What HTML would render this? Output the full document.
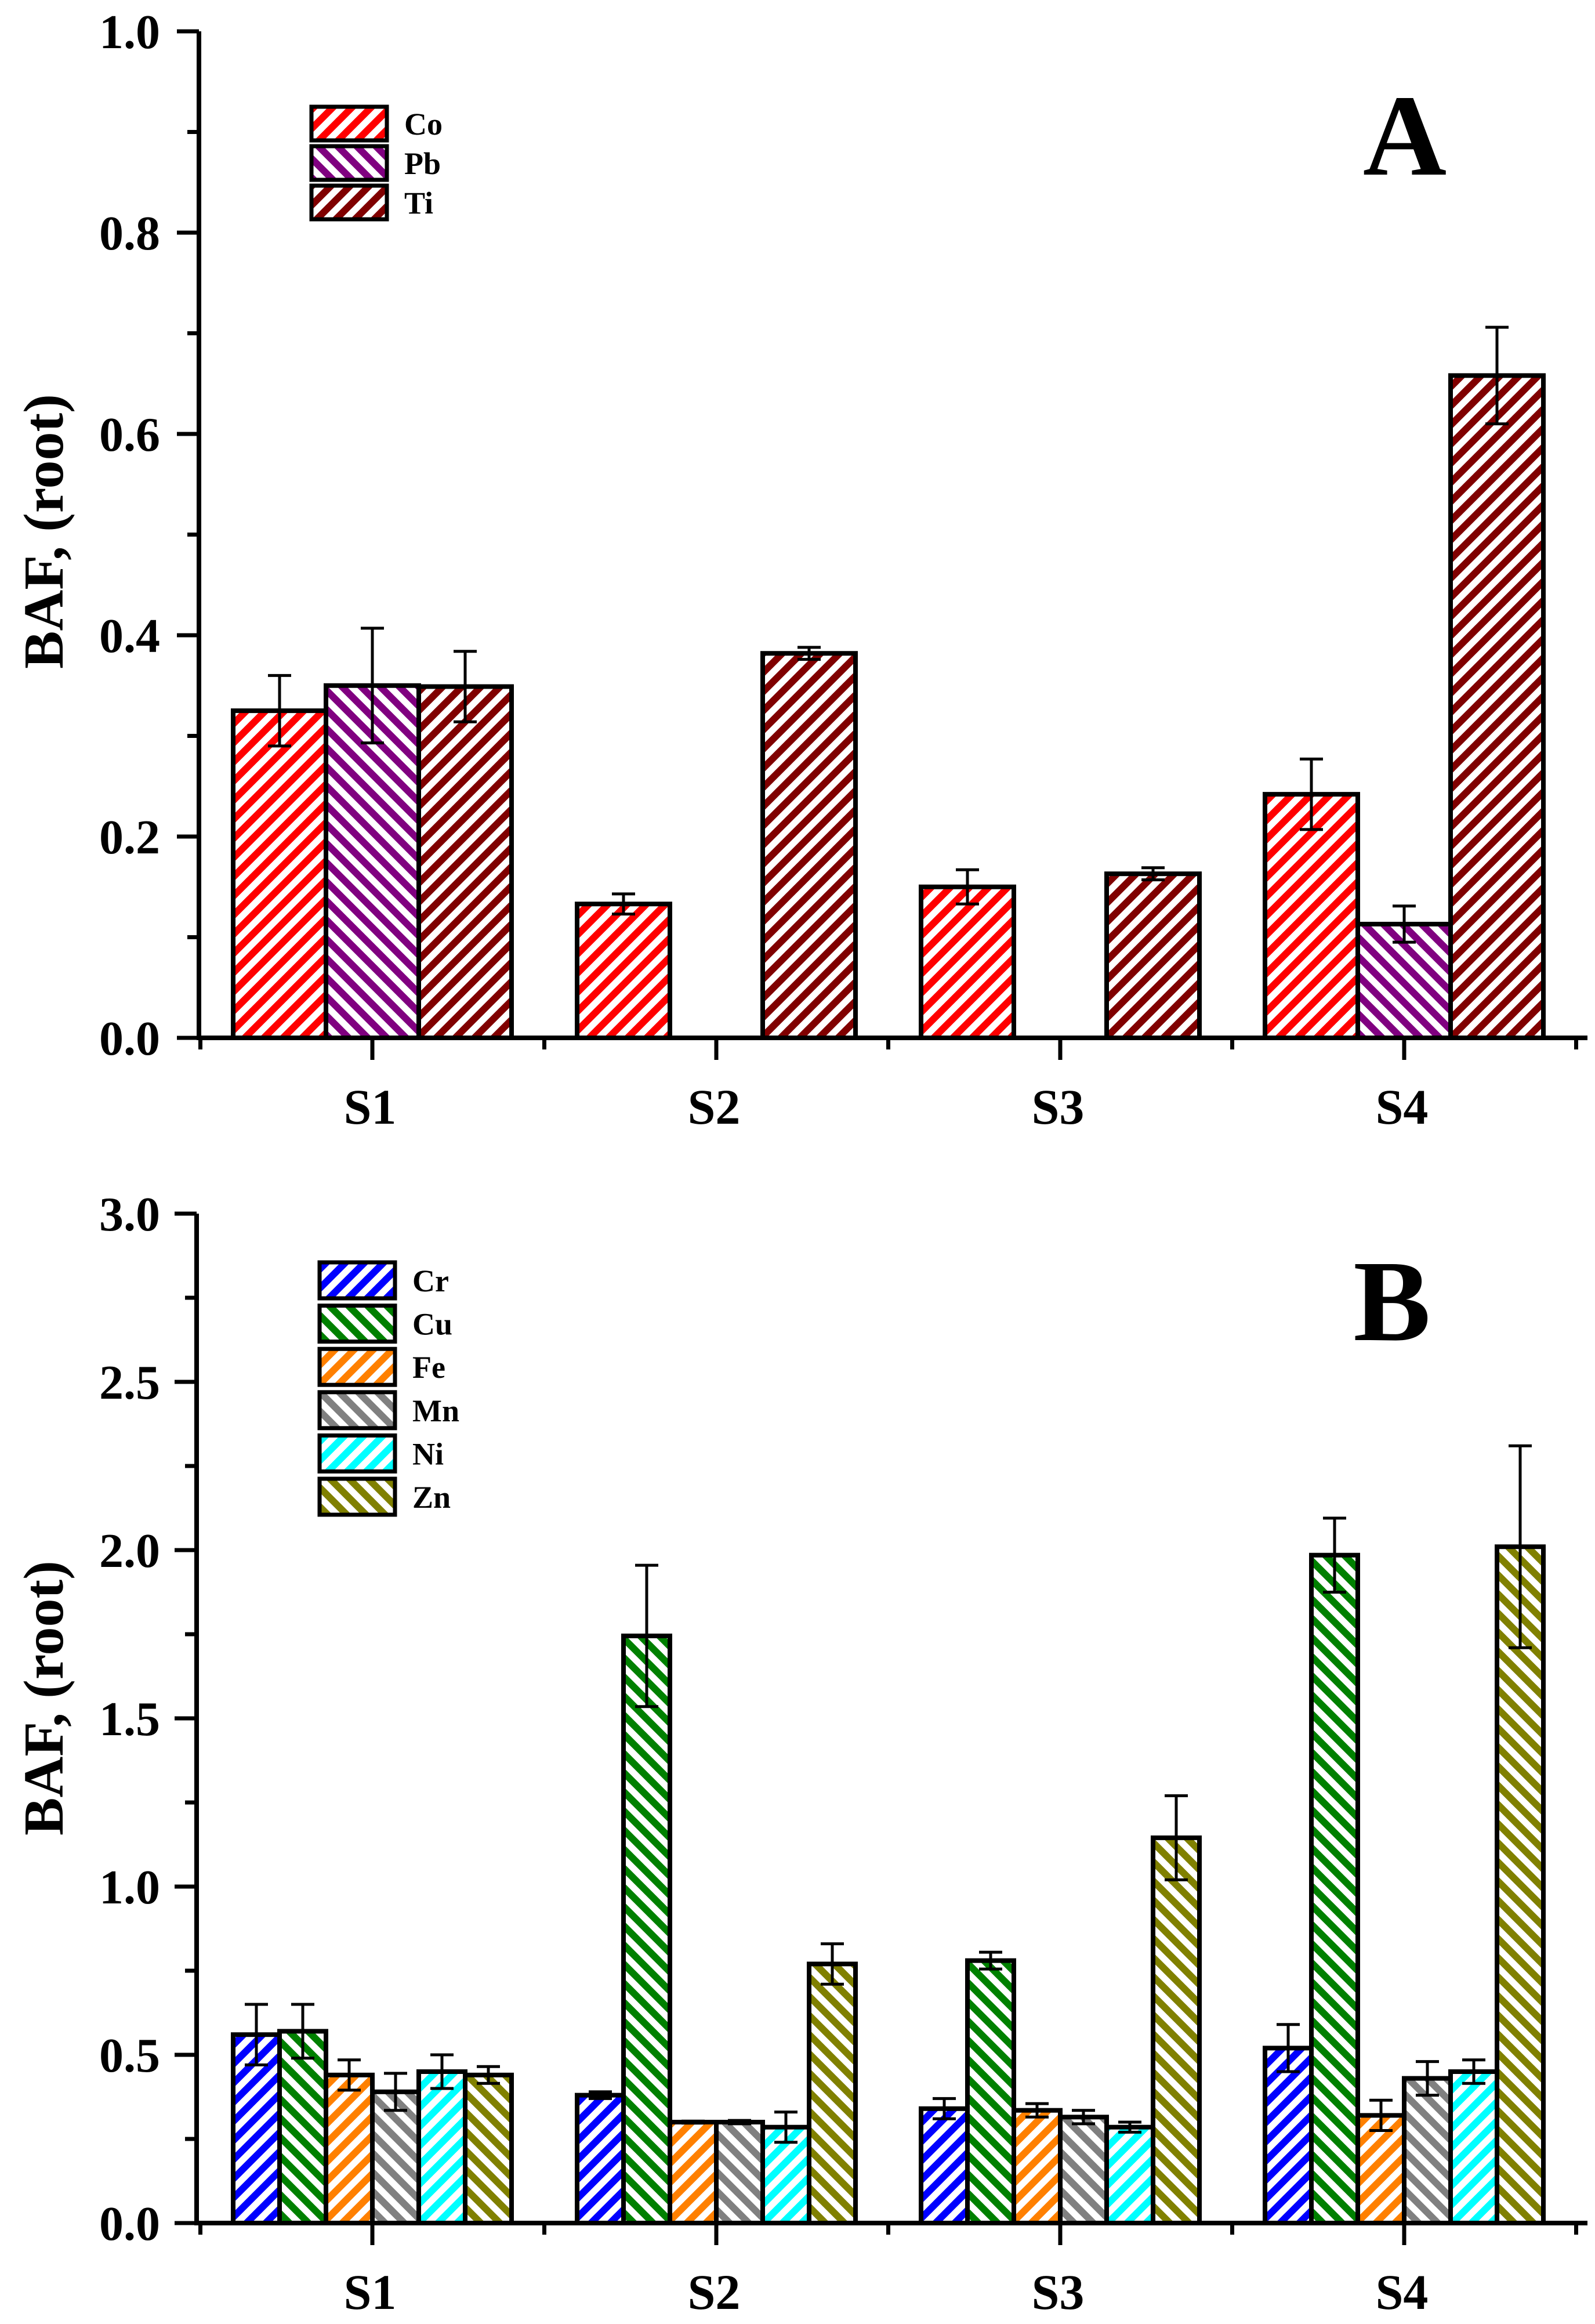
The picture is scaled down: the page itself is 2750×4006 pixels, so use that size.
<!DOCTYPE html>
<html><head><meta charset="utf-8"><style>
html,body{margin:0;padding:0;background:#fff}
svg{display:block}
text{font-family:"Liberation Serif",serif;font-weight:bold;fill:#000}
</style></head><body>
<svg id="fig" width="2750" height="4006" viewBox="0 0 2750 4006" xmlns="http://www.w3.org/2000/svg">
<defs id="defs"></defs>
<g id="chartA"></g>
<g id="chartB"></g>
</svg>
<script>
const categories = ["S1","S2","S3","S4"];
// Chart A
const seriesA = ["Co","Pb","Ti"];
const coVals = [0.325,0.133,0.150,0.242];
const coErr  = [0.035,0.010,0.017,0.035];
const pbVals = [0.350,0,0,0.113];
const pbErr  = [0.057,0,0,0.018];
const tiVals = [0.349,0.382,0.163,0.658];
const tiErr  = [0.035,0.006,0.006,0.048];
const ticksA = [0.0,0.2,0.4,0.6,0.8,1.0];
const tickLabelsA = ["0.0","0.2","0.4","0.6","0.8","1.0"];
// Chart B
const seriesB = ["Cr","Cu","Fe","Mn","Ni","Zn"];
const crVals = [0.56,0.38,0.34,0.52];
const crErr  = [0.09,0.01,0.03,0.07];
const cuVals = [0.57,1.745,0.78,1.985];
const cuErr  = [0.08,0.21,0.025,0.11];
const feVals = [0.44,0.30,0.335,0.32];
const feErr  = [0.045,0.003,0.02,0.045];
const mnVals = [0.39,0.30,0.315,0.43];
const mnErr  = [0.055,0.005,0.02,0.05];
const niVals = [0.45,0.285,0.285,0.45];
const niErr  = [0.05,0.045,0.015,0.035];
const znVals = [0.44,0.77,1.145,2.01];
const znErr  = [0.025,0.06,0.125,0.30];
const ticksB = [0.0,0.5,1.0,1.5,2.0,2.5,3.0];
const tickLabelsB = ["0.0","0.5","1.0","1.5","2.0","2.5","3.0"];

const NS="http://www.w3.org/2000/svg";
function mk(tag, attrs, parent){const e=document.createElementNS(NS,tag);for(const k in attrs)e.setAttribute(k,attrs[k]);parent.appendChild(e);return e;}
const defs=document.getElementById('defs');
function pattern(id,color,dir){
  const p=mk('pattern',{id:id,patternUnits:'userSpaceOnUse',width:33,height:33},defs);
  mk('rect',{x:0,y:0,width:33,height:33,fill:'#fff'},p);
  const d = dir>0 ? "M-8,41 L41,-8 M-8,8 L8,-8 M25,41 L41,25" : "M-8,-8 L41,41 M-8,25 L8,41 M25,-8 L41,8";
  mk('path',{d:d,stroke:color,'stroke-width':12,fill:'none'},p);
}
const colors={Co:'#ff0000',Pb:'#800080',Ti:'#800000',Cr:'#0000ff',Cu:'#008000',Fe:'#ff8000',Mn:'#808080',Ni:'#00ffff',Zn:'#808000'};
const dirs={Co:1,Pb:-1,Ti:1,Cr:1,Cu:-1,Fe:1,Mn:-1,Ni:1,Zn:-1};
for(const k in colors) pattern('pat-'+k,colors[k],dirs[k]);

function drawChart(g, cfg){
  const xL=cfg.xL, xR=cfg.xR, y0=cfg.y0, yTop=cfg.yTop, vmax=cfg.vmax;
  const yS=v=>y0-(v/vmax)*(y0-yTop);
  const centers=[642,1235,1828,2421];
  const xC=i=>centers[0]+i*(centers[3]-centers[0])/3;
  const n=cfg.series.length, bw=cfg.bw;
  cfg.series.forEach((s,si)=>{
    const vals=cfg.vals[si], errs=cfg.errs[si];
    categories.forEach((c,ci)=>{
      if(vals[ci]<=0) return;
      const x=xC(ci)-n*bw/2+si*bw;
      const r=mk('rect',{x:x,y:yS(vals[ci]),width:bw,height:y0-yS(vals[ci]),fill:'url(#pat-'+s+')',stroke:'#000','stroke-width':8},g);
      
      
      const cx=x+bw/2, yt=yS(vals[ci]+errs[ci]), yb=yS(vals[ci]-errs[ci]);
      const e=mk('path',{d:`M${cx},${yt} V${yb} M${cx-20},${yt} H${cx+20} M${cx-20},${yb} H${cx+20}`,stroke:'#000','stroke-width':5,fill:'none'},g);
      
      
    });
  });
  const ax=mk('path',{d:`M${xL},${yTop} V${y0} H${xR}`,stroke:'#000','stroke-width':8,fill:'none'},g);
  
  
  cfg.ticks.forEach((t,i)=>{
    const y=yS(t);
    mk('line',{x1:xL-38,x2:xL,y1:y,y2:y,stroke:'#000','stroke-width':7},g);
    if(i<cfg.ticks.length-1){const ym=yS((t+cfg.ticks[i+1])/2);mk('line',{x1:xL-20,x2:xL,y1:ym,y2:ym,stroke:'#000','stroke-width':7},g);}
    const tx=mk('text',{x:276,y:y+29,'text-anchor':'end','font-size':84},g);
    tx.textContent=cfg.labels[i];
    
    
  });
  const step=(centers[3]-centers[0])/3;
  categories.forEach((c,ci)=>{
    const x=xC(ci);
    mk('line',{x1:x,x2:x,y1:y0,y2:y0+38,stroke:'#000','stroke-width':7},g);
    const tx=mk('text',{x:x-4,y:y0+148,'text-anchor':'middle','font-size':86},g);
    tx.textContent=c;
    
    
  });
  for(let k=0;k<5;k++){const x=centers[0]-step/2+k*step;if(x<xR)mk('line',{x1:x,x2:x,y1:y0,y2:y0+20,stroke:'#000','stroke-width':7},g);}
  const yt=mk('text',{x:0,y:0,'text-anchor':'middle','font-size':98,transform:`translate(108,${cfg.titleY}) rotate(-90)`},g);
  yt.textContent='BAF, (root)';
  
  
  cfg.series.forEach((s,si)=>{
    const ly=cfg.legY+si*cfg.legStep;
    const lr=mk('rect',{x:cfg.legX,y:ly,width:130,height:cfg.legH,fill:'url(#pat-'+s+')',stroke:'#000','stroke-width':7},g);
    
    
    const lt=mk('text',{x:cfg.legX+160,y:ly+cfg.legH/2+19,'font-size':54},g);
    lt.textContent=s;
    
    
  });
  const pl=mk('text',{x:cfg.panelX,y:cfg.panelY,'font-size':200,'text-anchor':'middle'},g);
  pl.textContent=cfg.panel;
  
  
}
drawChart(document.getElementById('chartA'),{xL:343,xR:2737,y0:1789,yTop:54,vmax:1.0,series:seriesA,
  vals:[coVals,pbVals,tiVals],errs:[coErr,pbErr,tiErr],bw:160,ticks:ticksA,labels:tickLabelsA,
  titleY:916,legX:537,legY:184,legStep:68,legH:58,panel:'A',panelX:2422,panelY:301});
drawChart(document.getElementById('chartB'),{xL:339,xR:2737,y0:3832,yTop:2092,vmax:3.0,series:seriesB,
  vals:[crVals,cuVals,feVals,mnVals,niVals,znVals],errs:[crErr,cuErr,feErr,mnErr,niErr,znErr],bw:80,ticks:ticksB,labels:tickLabelsB,
  titleY:2927,legX:551,legY:2176,legStep:74.6,legH:62,panel:'B',panelX:2400,panelY:2310});
</script>
</body></html>
